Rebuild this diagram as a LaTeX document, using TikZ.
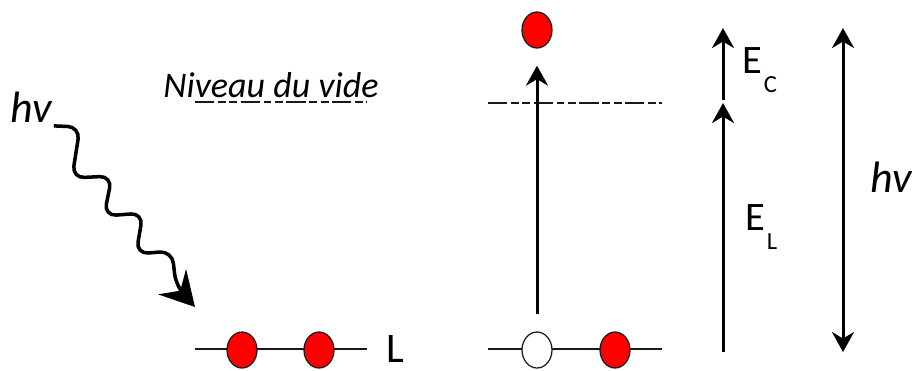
\documentclass[tikz,border=0pt]{standalone}
\usepackage{fontspec}
\setmainfont{Carlito}
\usepackage{xcolor}
\definecolor{elec}{HTML}{FF0000}
\definecolor{darkline}{gray}{0.1}
\usepackage{tikz}
\usetikzlibrary{shapes.geometric,arrows.meta,positioning,calc}

\newcommand{\Elabel}[1]{E\kern1pt\raisebox{-11pt}{\fontsize{14}{14}\selectfont #1}}

\begin{document}
\begin{tikzpicture}[
  x=0.02cm,y=-0.02cm,
  electron/.style={ellipse,draw=darkline,line width=0.7pt,fill=elec,inner sep=0pt,
                   minimum width=0.6cm,minimum height=0.72cm},
  hole/.style={electron,fill=white},
  level/.style={line width=1.1pt,color=darkline},
  vacuum/.style={level,dash pattern=on 11pt off 2pt on 4.5pt off 2pt on 4.5pt off 2pt},
  arrow/.style={-{Stealth[length=0.4cm,width=0.44cm,inset=0.13cm]},line width=1.7pt},
  darrow/.style={{Stealth[length=0.4cm,width=0.44cm,inset=0.13cm]}-{Stealth[length=0.4cm,width=0.44cm,inset=0.13cm]},line width=1.7pt},
  photon/.style={-{Stealth[length=0.68cm,width=0.75cm,inset=0.24cm]},line width=2pt,
                 rounded corners=7pt},
  lab/.style={inner sep=0pt,font=\fontsize{24}{24}\selectfont},
]
  \useasboundingbox (0,0) rectangle (912,370);

  % left: before absorption
  \draw[level] (195,349) -- (367,349);
  \draw[vacuum] (195,102) -- (367,102);
  \node[electron] (eA) at (242,350) {};
  \node[electron] (eB) at (319,350) {};
  \node[lab,anchor=base west] (L) at (386,362) {L};
  \node[lab,anchor=base,font=\fontsize{20.5}{20.5}\selectfont\itshape] (vide) at (271,97) {Niveau du vide};
  \node[lab,anchor=base,font=\fontsize{25}{25}\selectfont\itshape] (hvL) at (31,122) {hv};
  \coordinate (impact) at (195,307);
  \draw[photon] ([xshift=1pt,yshift=-2pt]hvL.south east) -- (80,127) -- (72,178)
    -- (112,176) -- (104,216) -- (143,213) -- (136,254) -- (172,251)
    -- (176,286) -- (impact);

  % right: after absorption
  \draw[level] (488,349) -- (662,349);
  \draw[vacuum] (488,103) -- (662,103);
  \node[hole] (h) at (537,350) {};
  \node[electron] (eC) at (615,350) {};
  \node[electron] (eOut) at (537,30) {};
  \draw[arrow,shorten <=0.34cm,shorten >=0.34cm] (h) -- (eOut);

  % energies
  \coordinate (elBot) at (723,352);
  \coordinate (elTop) at (723,103);
  \coordinate (ecBot) at (723,100);
  \coordinate (ecTop) at (723,28);
  \draw[arrow] (elBot) -- (elTop);
  \draw[arrow] (ecBot) -- (ecTop);
  \node[lab,anchor=base west,font=\fontsize{23}{23}\selectfont] (EC) at (742,73) {\Elabel{C}};
  \node[lab,anchor=base west,font=\fontsize{23}{23}\selectfont] (EL) at (745,230) {\Elabel{L}};

  \coordinate (hvBot) at (843,352);
  \coordinate (hvTop) at (843,28);
  \draw[darrow] (hvBot) -- (hvTop);
  \node[lab,anchor=base west,font=\fontsize{25}{25}\selectfont\itshape] (hvR) at (870,192) {hv};
\end{tikzpicture}
\end{document}
